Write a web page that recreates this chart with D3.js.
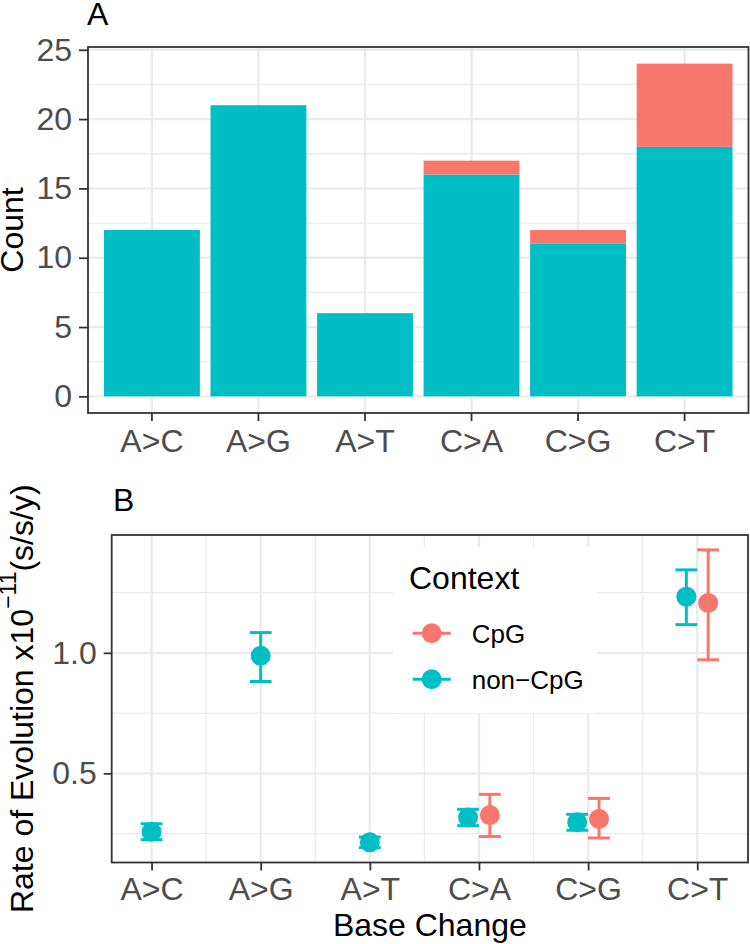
<!DOCTYPE html>
<html><head><meta charset="utf-8">
<script src="https://cdn.jsdelivr.net/npm/d3@7"></script>
<style>
body{margin:0;background:#fff}
text{font-family:"Liberation Sans",Arial,Helvetica,sans-serif}
</style>
</head><body>
<svg id="chart" width="750" height="944"></svg>
<script>
// ---------- data ----------
const categories = ["A>C","A>G","A>T","C>A","C>G","C>T"];
const contexts = ["CpG","non\u2212CpG"];
const contextColors = ["#F8766D","#00BFC4"];

// Panel A: counts (stacked)
const countNonCpG = [12,21,6,16,11,18];
const countCpG    = [0,0,0,1,1,6];
const countTicks  = [0,5,10,15,20,25];
const countMinor  = [2.5,7.5,12.5,17.5,22.5];

// Panel B: rates (x10^-11 s/s/y)
const rateNonCpG     = [0.258,0.988,0.214,0.317,0.297,1.233];
const rateNonCpGLow  = [0.225,0.881,0.192,0.283,0.264,1.117];
const rateNonCpGHigh = [0.291,1.084,0.236,0.351,0.330,1.344];
const rateCpG        = [null,null,null,0.327,0.311,1.207];
const rateCpGLow     = [null,null,null,0.238,0.232,0.971];
const rateCpGHigh    = [null,null,null,0.413,0.396,1.427];
const rateTicks = [0.5,1.0];
const rateMinor = [0.25,0.75,1.25];

// ---------- styles ----------
const GRID = "#EBEBEB", DARK = "#333333", TICKTXT = "#4D4D4D";
const svg = d3.select("#chart");

function styleAxis(g, size){
  g.select(".domain").remove();
  g.selectAll(".tick line").attr("stroke", DARK).attr("stroke-width", 1.8);
  g.selectAll(".tick text").attr("fill", TICKTXT).style("font-size", size+"px")
   .style("font-family", '"Liberation Sans",Arial,sans-serif');
}

// ================= Panel A =================
const A = {left:88, right:748.5, top:47, bottom:413};
const xA = d3.scaleBand().domain(categories).range([A.left, A.right])
  .paddingInner(0.1).paddingOuter(0.15);
const yA = d3.scaleLinear().domain([-1.2, 25.2]).range([A.bottom, A.top]);

const gA = svg.append("g");
gA.append("rect").attr("x",A.left).attr("y",A.top).attr("width",A.right-A.left)
  .attr("height",A.bottom-A.top).attr("fill","#fff");
gA.selectAll("line.minor").data(countMinor).join("line")
  .attr("x1",A.left).attr("x2",A.right).attr("y1",d=>yA(d)).attr("y2",d=>yA(d))
  .attr("stroke",GRID).attr("stroke-width",1.3);
gA.selectAll("line.majy").data(countTicks).join("line")
  .attr("x1",A.left).attr("x2",A.right).attr("y1",d=>yA(d)).attr("y2",d=>yA(d))
  .attr("stroke",GRID).attr("stroke-width",2.4);
gA.selectAll("line.majx").data(categories).join("line")
  .attr("y1",A.top).attr("y2",A.bottom)
  .attr("x1",d=>xA(d)+xA.bandwidth()/2).attr("x2",d=>xA(d)+xA.bandwidth()/2)
  .attr("stroke",GRID).attr("stroke-width",2.4);

// stacked bars: non-CpG bottom, CpG top
const stackRows = categories.map((c,i)=>({cat:c, nonCpG:countNonCpG[i], CpG:countCpG[i]}));
const stacks = d3.stack().keys(["nonCpG","CpG"])(stackRows);
const stackColor = {nonCpG:contextColors[1], CpG:contextColors[0]};
stacks.forEach(s=>{
  gA.append("g").selectAll("rect").data(s.filter(d=>d[1]>d[0])).join("rect")
    .attr("x",d=>xA(d.data.cat)).attr("width",xA.bandwidth())
    .attr("y",d=>yA(d[1])).attr("height",d=>yA(d[0])-yA(d[1]))
    .attr("fill",stackColor[s.key]);
});
gA.append("rect").attr("x",A.left).attr("y",A.top).attr("width",A.right-A.left)
  .attr("height",A.bottom-A.top).attr("fill","none").attr("stroke",DARK).attr("stroke-width",1.8);

const axLA = gA.append("g").attr("transform",`translate(${A.left},0)`)
  .call(d3.axisLeft(yA).tickValues(countTicks).tickSize(9).tickPadding(7).tickFormat(d3.format("d")));
styleAxis(axLA, 32);
const axBA = gA.append("g").attr("transform",`translate(0,${A.bottom})`)
  .call(d3.axisBottom(xA).tickSize(8).tickPadding(8));
styleAxis(axBA, 32);

gA.append("text").attr("transform",`translate(23,${(A.top+A.bottom)/2}) rotate(-90)`)
  .attr("text-anchor","middle").style("font-size","32px").attr("fill","#000").text("Count");
gA.append("text").attr("x",87).attr("y",25).style("font-size","32px").attr("fill","#000").text("A");

// ================= Panel B =================
const B = {left:111.7, right:748, top:535, bottom:862.5};
const dodge = 0.1, capHalf = 0.1;
// build point records
const pointsB = [];
categories.forEach((c,i)=>{
  const hasCpG = rateCpG[i] !== null;
  pointsB.push({i, ctx:1, v:rateNonCpG[i], lo:rateNonCpGLow[i], hi:rateNonCpGHigh[i], pos: i + (hasCpG ? -dodge : 0)});
  if(hasCpG) pointsB.push({i, ctx:0, v:rateCpG[i], lo:rateCpGLow[i], hi:rateCpGHigh[i], pos: i + dodge});
});
const xExt = [d3.min(pointsB,d=>d.pos-capHalf), d3.max(pointsB,d=>d.pos+capHalf)];
const xPad = (xExt[1]-xExt[0])*0.05;
const xB = d3.scaleLinear().domain([xExt[0]-xPad, xExt[1]+xPad]).range([B.left,B.right]);
const yExt = [d3.min(pointsB,d=>d.lo), d3.max(pointsB,d=>d.hi)];
const yPad = (yExt[1]-yExt[0])*0.05;
const yB = d3.scaleLinear().domain([yExt[0]-yPad, yExt[1]+yPad]).range([B.bottom,B.top]);

const gB = svg.append("g");
gB.append("rect").attr("x",B.left).attr("y",B.top).attr("width",B.right-B.left)
  .attr("height",B.bottom-B.top).attr("fill","#fff");
const xMinorB = d3.range(-0.5, 6, 1).filter(v=>v>xB.domain()[0] && v<xB.domain()[1]);
gB.selectAll("line.mx").data(xMinorB).join("line")
  .attr("x1",d=>xB(d)).attr("x2",d=>xB(d)).attr("y1",B.top).attr("y2",B.bottom)
  .attr("stroke",GRID).attr("stroke-width",1.3);
gB.selectAll("line.my").data(rateMinor).join("line")
  .attr("y1",d=>yB(d)).attr("y2",d=>yB(d)).attr("x1",B.left).attr("x2",B.right)
  .attr("stroke",GRID).attr("stroke-width",1.3);
gB.selectAll("line.Mx").data(d3.range(categories.length)).join("line")
  .attr("x1",d=>xB(d)).attr("x2",d=>xB(d)).attr("y1",B.top).attr("y2",B.bottom)
  .attr("stroke",GRID).attr("stroke-width",2.4);
gB.selectAll("line.My").data(rateTicks).join("line")
  .attr("y1",d=>yB(d)).attr("y2",d=>yB(d)).attr("x1",B.left).attr("x2",B.right)
  .attr("stroke",GRID).attr("stroke-width",2.4);

// error bars
const eb = gB.append("g").selectAll("g").data(pointsB).join("g")
  .attr("stroke",d=>contextColors[d.ctx]).attr("stroke-width",3).attr("fill","none");
eb.append("line").attr("x1",d=>xB(d.pos)).attr("x2",d=>xB(d.pos))
  .attr("y1",d=>yB(d.lo)).attr("y2",d=>yB(d.hi));
eb.append("line").attr("x1",d=>xB(d.pos-capHalf)).attr("x2",d=>xB(d.pos+capHalf))
  .attr("y1",d=>yB(d.lo)).attr("y2",d=>yB(d.lo));
eb.append("line").attr("x1",d=>xB(d.pos-capHalf)).attr("x2",d=>xB(d.pos+capHalf))
  .attr("y1",d=>yB(d.hi)).attr("y2",d=>yB(d.hi));
// points
gB.append("g").selectAll("circle").data(pointsB).join("circle")
  .attr("cx",d=>xB(d.pos)).attr("cy",d=>yB(d.v)).attr("r",10)
  .attr("fill",d=>contextColors[d.ctx]);

// legend (inside panel)
const lg = gB.append("g");
lg.append("rect").attr("x",393).attr("y",547).attr("width",204).attr("height",166).attr("fill","#fff");
lg.append("text").attr("x",409).attr("y",589).style("font-size","32px").attr("fill","#000").text("Context");
contexts.forEach((c,k)=>{
  const cy = 633.3 + k*46;
  lg.append("line").attr("x1",412.7).attr("x2",450.7).attr("y1",cy).attr("y2",cy)
    .attr("stroke",contextColors[k]).attr("stroke-width",3);
  lg.append("circle").attr("cx",431.7).attr("cy",cy).attr("r",10).attr("fill",contextColors[k]);
  lg.append("text").attr("x",471.7).attr("y",cy+9.4).style("font-size","26px").attr("fill","#000").text(c);
});

gB.append("rect").attr("x",B.left).attr("y",B.top).attr("width",B.right-B.left)
  .attr("height",B.bottom-B.top).attr("fill","none").attr("stroke",DARK).attr("stroke-width",1.8);

const axLB = gB.append("g").attr("transform",`translate(${B.left},0)`)
  .call(d3.axisLeft(yB).tickValues(rateTicks).tickSize(8).tickPadding(7).tickFormat(d3.format(".1f")));
styleAxis(axLB, 32);
const axBB = gB.append("g").attr("transform",`translate(0,${B.bottom})`)
  .call(d3.axisBottom(xB).tickValues(d3.range(categories.length)).tickFormat(i=>categories[i]).tickSize(8).tickPadding(7));
styleAxis(axBB, 32);

const yt = gB.append("text").attr("transform",`translate(32.5,${(B.top+B.bottom)/2}) rotate(-90)`)
  .attr("text-anchor","middle").style("font-size","32px").attr("fill","#000");
yt.append("tspan").text("Rate of Evolution x10");
yt.append("tspan").attr("dy",-17).style("font-size","23px").text("\u221211");
yt.append("tspan").attr("dy",17).text("(s/s/y)");

gB.append("text").attr("x",(B.left+B.right)/2).attr("y",936).attr("text-anchor","middle")
  .style("font-size","32px").attr("fill","#000").text("Base Change");
gB.append("text").attr("x",113).attr("y",511).style("font-size","32px").attr("fill","#000").text("B");
</script>
</body></html>
